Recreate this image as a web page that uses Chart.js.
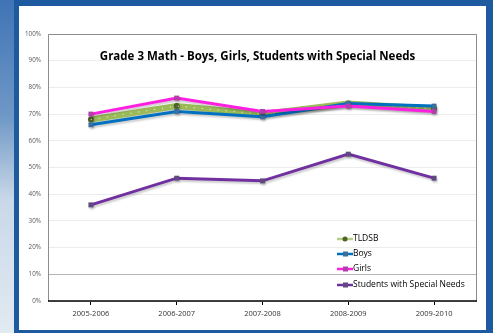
<!DOCTYPE html>
<html>
<head>
<meta charset="utf-8">
<script src="https://cdn.jsdelivr.net/npm/chart.js@4"></script>
<style>
  html, body { margin: 0; padding: 0; }
  body { width: 493px; height: 333px; overflow: hidden; position: relative;
         background: #1d5a9f; font-family: "Open Sans", sans-serif; }
  #sky { position: absolute; left: 0; top: 0; width: 14px; height: 333px;
         background: linear-gradient(#3f74b6 0%, #6f98c6 35%, #c9d8e8 60%, #e2eaf2 100%); }
  #panel { position: absolute; left: 19px; top: 6px; width: 467px; height: 324px; background: #fff; }
</style>
</head>
<body>
<div id="sky"></div>
<div id="panel"><canvas id="myChart"></canvas></div>
<script>
const years = ['2005-2006', '2006-2007', '2007-2008', '2008-2009', '2009-2010'];
const tldsb = [68, 73, 70, 74, 72];
const boys = [66, 71, 69, 74, 73];
const girls = [70, 76, 71, 73, 71];
const specialNeeds = [36, 46, 45, 55, 46];
const yTicks = [0, 10, 20, 30, 40, 50, 60, 70, 80, 90, 100];

const chartTitle = 'Grade 3 Math - Boys, Girls, Students with Special Needs';

// soft drop shadow under lines and markers
const shadow = {
  id: 'shadow',
  beforeDatasetsDraw(chart) {
    const c = chart.ctx;
    c.save();
    c.shadowColor = 'rgba(0,0,0,0.2)';
    c.shadowOffsetX = 1;
    c.shadowOffsetY = 2;
    c.shadowBlur = 2;
  },
  afterDatasetsDraw(chart) {
    chart.ctx.restore();
  }
};

// white dotted stripe inside the wide TLDSB line
const dotted = {
  id: 'dotted',
  afterDatasetDraw(chart, args) {
    if (args.index !== 0) return;
    const pts = args.meta.data;
    const c = chart.ctx;
    c.save();
    c.shadowColor = 'transparent';
    c.strokeStyle = 'rgba(255,255,255,0.9)';
    c.lineWidth = 1;
    c.setLineDash([1, 7]);
    c.beginPath();
    pts.forEach((p, i) => i ? c.lineTo(p.x, p.y) : c.moveTo(p.x, p.y));
    c.stroke();
    c.restore();
  }
};

// frame, title and the legend inside the plot
const extras = {
  id: 'extras',
  afterDraw(chart) {
    const c = chart.ctx;
    const a = chart.chartArea;
    c.save();
    c.strokeStyle = '#8c8c8c';
    c.lineWidth = 1;
    c.beginPath();
    c.moveTo(a.left + 0.5, a.bottom);
    c.lineTo(a.left + 0.5, a.top + 0.5);
    c.lineTo(a.right - 0.5, a.top + 0.5);
    c.lineTo(a.right - 0.5, a.bottom);
    c.stroke();
    c.strokeStyle = '#000';
    c.lineWidth = 1.5;
    c.beginPath();
    c.moveTo(a.left, a.bottom);
    c.lineTo(a.right, a.bottom);
    c.stroke();

    c.fillStyle = '#000';
    c.font = 'bold 11.5px "Open Sans"';
    c.textAlign = 'center';
    c.textBaseline = 'middle';
    c.fillText(chartTitle, a.left + 209.5, a.top + 23);

    c.font = '8.5px "Open Sans"';
    c.textAlign = 'left';
    const rowY = [62, 47, 32, 16];
    chart.data.datasets.forEach((ds, i) => {
      const y = a.bottom - rowY[i];
      const x = a.left + 289;
      c.strokeStyle = ds.legendColor;
      c.lineWidth = 2.5;
      c.beginPath();
      c.moveTo(x, y);
      c.lineTo(x + 16, y);
      c.stroke();
      c.fillStyle = ds.pointBackgroundColor;
      if (ds.pointStyle === 'circle') {
        c.beginPath();
        c.arc(x + 8, y, 2.5, 0, Math.PI * 2);
        c.fill();
      } else {
        c.fillRect(x + 6, y - 2.5, 5, 5);
      }
      c.fillStyle = '#000';
      c.fillText(ds.label, x + 16, y);
    });
    c.restore();
  }
};

new Chart(document.getElementById('myChart'), {
  type: 'line',
  data: {
    labels: years,
    datasets: [
      { label: 'TLDSB', data: tldsb, borderColor: '#9bbb59', legendColor: '#b5cf86', borderWidth: 6,
        pointStyle: 'circle', pointRadius: 3, pointBackgroundColor: '#4f6228', pointBorderWidth: 0, order: 4 },
      { label: 'Boys', data: boys, borderColor: '#0070c0', legendColor: '#0070c0', borderWidth: 3,
        pointStyle: 'rect', pointRadius: 3.5, pointBackgroundColor: '#3a6e9e', pointBorderWidth: 0, order: 3 },
      { label: 'Girls', data: girls, borderColor: '#ff1fe0', legendColor: '#ff1fe0', borderWidth: 3,
        pointStyle: 'rect', pointRadius: 3.5, pointBackgroundColor: '#b040a8', pointBorderWidth: 0, order: 2 },
      { label: 'Students with Special Needs', data: specialNeeds, borderColor: '#7030a0', legendColor: '#7030a0', borderWidth: 3,
        pointStyle: 'rect', pointRadius: 3.5, pointBackgroundColor: '#5e4a80', pointBorderWidth: 0, order: 1 }
    ]
  },
  options: {
    responsive: true,
    maintainAspectRatio: false,
    animation: false,
    tension: 0,
    layout: { padding: { top: 28, right: 9, left: 0, bottom: 0 } },
    plugins: { legend: { display: false }, tooltip: { enabled: false } },
    scales: {
      x: {
        offset: true,
        afterFit(s) { s.height = 29; },
        border: { display: false },
        grid: { offset: false, drawOnChartArea: false, color: '#000', tickLength: 4 },
        ticks: { color: '#333', font: { family: 'Open Sans', size: 7.5 }, padding: 4, maxRotation: 0 }
      },
      y: {
        min: 0,
        max: 100,
        afterFit(s) { s.width = 29; },
        afterBuildTicks(s) { s.ticks = yTicks.map(v => ({ value: v })); },
        border: { display: false },
        grid: {
          drawTicks: false,
          color: ctx => ctx.tick && ctx.tick.value === 10 ? '#b4b4b4' : '#ececec'
        },
        ticks: { color: '#555', font: { family: 'Open Sans', size: 6.3 }, padding: 7, callback: v => v + '%' }
      }
    }
  },
  plugins: [shadow, dotted, extras]
});
</script>
</body>
</html>
